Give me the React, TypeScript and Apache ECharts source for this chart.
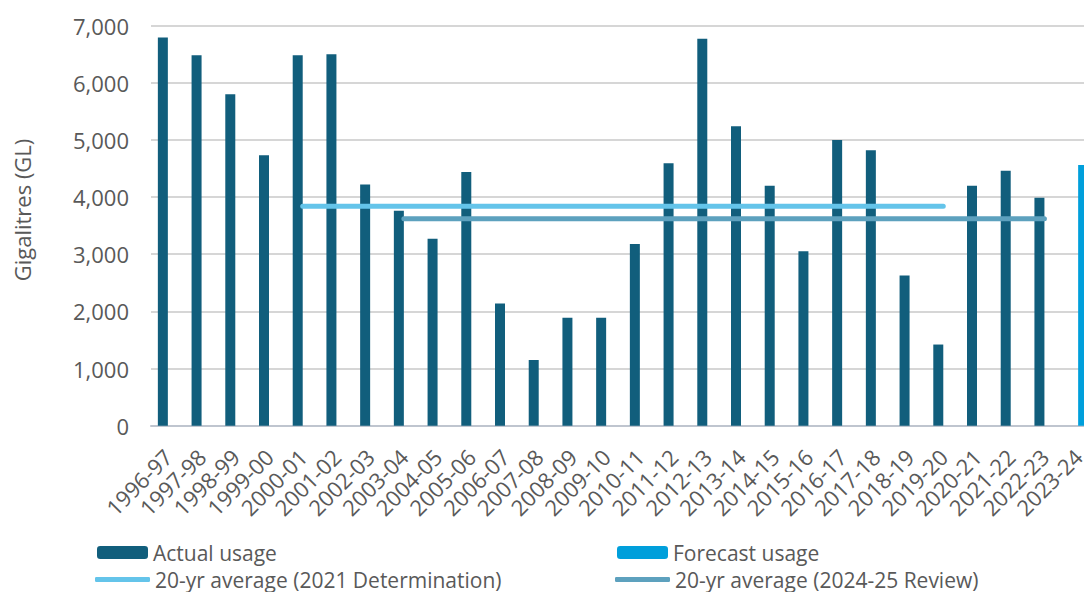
import React, { useEffect, useRef } from "react";
import * as echarts from "echarts";

const categories = [
  "1996-97", "1997-98", "1998-99", "1999-00", "2000-01", "2001-02", "2002-03",
  "2003-04", "2004-05", "2005-06", "2006-07", "2007-08", "2008-09", "2009-10",
  "2010-11", "2011-12", "2012-13", "2013-14", "2014-15", "2015-16", "2016-17",
  "2017-18", "2018-19", "2019-20", "2020-21", "2021-22", "2022-23", "2023-24",
];

const actualUsage = [
  6790, 6480, 5800, 4730, 6480, 6500, 4220, 3760, 3270, 4440, 2140, 1150, 1890, 1890,
  3180, 4590, 6770, 5240, 4200, 3050, 5000, 4820, 2630, 1420, 4200, 4460, 3990, null,
];

const forecastUsage = [
  null, null, null, null, null, null, null, null, null, null, null, null, null, null,
  null, null, null, null, null, null, null, null, null, null, null, null, null, 4560,
];

const avg2021Value = 3840;
const avg2021Range = ["2000-01", "2019-20"];
const avg2025Value = 3620;
const avg2025Range = ["2003-04", "2022-23"];

const yTicks = [0, 1000, 2000, 3000, 4000, 5000, 6000, 7000];

function rangeSeries(value: number, range: string[]) {
  const a = categories.indexOf(range[0]);
  const b = categories.indexOf(range[1]);
  return categories.map((_, i) => (i >= a && i <= b ? value : null));
}

const FONT = "'Open Sans', sans-serif";
const TEXT = "#595959";

export default function App() {
  const ref = useRef<HTMLDivElement>(null);

  useEffect(() => {
    if (!ref.current) return;
    const chart = echarts.init(ref.current, undefined, { renderer: "svg" });
    const legendText = { fontFamily: FONT, fontSize: 21, color: TEXT, lineHeight: 21 };
    chart.setOption({
      animation: false,
      textStyle: { fontFamily: FONT },
      grid: { left: 151, right: 5, top: 25.6, bottom: 166.3 },
      legend: [
        {
          data: ["Actual usage"], left: 97, top: 542, padding: 0, itemWidth: 51, itemHeight: 13,
          textStyle: legendText, selectedMode: false,
        },
        {
          data: ["Forecast usage"], left: 617, top: 542, padding: 0, itemWidth: 51, itemHeight: 13,
          textStyle: legendText, selectedMode: false,
        },
        {
          data: [{ name: "20-yr average (2021 Determination)", icon: "roundRect" }],
          left: 95, top: 569, padding: 0, itemWidth: 55, itemHeight: 5,
          textStyle: legendText, selectedMode: false,
        },
        {
          data: [{ name: "20-yr average (2024-25 Review)", icon: "roundRect" }],
          left: 615, top: 569, padding: 0, itemWidth: 55, itemHeight: 5,
          textStyle: legendText, selectedMode: false,
        },
      ],
      xAxis: {
        type: "category",
        data: categories,
        axisTick: { show: false },
        axisLine: { lineStyle: { color: "#BFC5CF", width: 2 } },
        axisLabel: {
          interval: 0,
          rotate: 45,
          margin: 27,
          fontFamily: FONT,
          fontSize: 22,
          color: TEXT,
        },
      },
      yAxis: {
        type: "value",
        min: yTicks[0],
        max: yTicks[yTicks.length - 1],
        interval: 1000,
        axisLine: { show: false },
        axisTick: { show: false },
        splitLine: { lineStyle: { color: "#C8C8C8", width: 1.5 } },
        axisLabel: {
          margin: 22,
          fontFamily: FONT,
          fontSize: 22,
          color: TEXT,
          formatter: (v: number) => v.toLocaleString("en-US"),
        },
      },
      graphic: [
        {
          type: "text",
          x: 22,
          y: 210,
          rotation: Math.PI / 2,
          style: {
            text: "Gigalitres (GL)",
            fontFamily: FONT,
            fontSize: 22,
            fill: TEXT,
            align: "center",
            verticalAlign: "middle",
          },
        },
      ],
      series: [
        {
          name: "Actual usage",
          type: "bar",
          data: actualUsage,
          barWidth: 10,
          barGap: "0%",
          color: "#115E7C",
          itemStyle: { color: "#115E7C" },
        },
        {
          name: "Forecast usage",
          type: "bar",
          data: forecastUsage,
          barWidth: 10,
          barGap: "0%",
          color: "#009FDB",
          itemStyle: { color: "#009FDB" },
        },
        {
          name: "20-yr average (2021 Determination)",
          type: "line",
          data: rangeSeries(avg2021Value, avg2021Range),
          symbol: "none",
          color: "#64C4EA",
          itemStyle: { color: "#64C4EA" },
          lineStyle: { color: "#64C4EA", width: 5, cap: "round" },
          z: 5,
        },
        {
          name: "20-yr average (2024-25 Review)",
          type: "line",
          data: rangeSeries(avg2025Value, avg2025Range),
          symbol: "none",
          color: "#5DA1BE",
          itemStyle: { color: "#5DA1BE" },
          lineStyle: { color: "#5DA1BE", width: 5, cap: "round" },
          z: 5,
        },
      ],
    });
    return () => chart.dispose();
  }, []);

  return (
    <div
      style={{
        position: "fixed",
        left: 0,
        top: 0,
        width: 1084,
        height: 592,
        overflow: "hidden",
        background: "#fff",
      }}
    >
      <div ref={ref} style={{ width: 1100, height: 592 }} />
    </div>
  );
}
